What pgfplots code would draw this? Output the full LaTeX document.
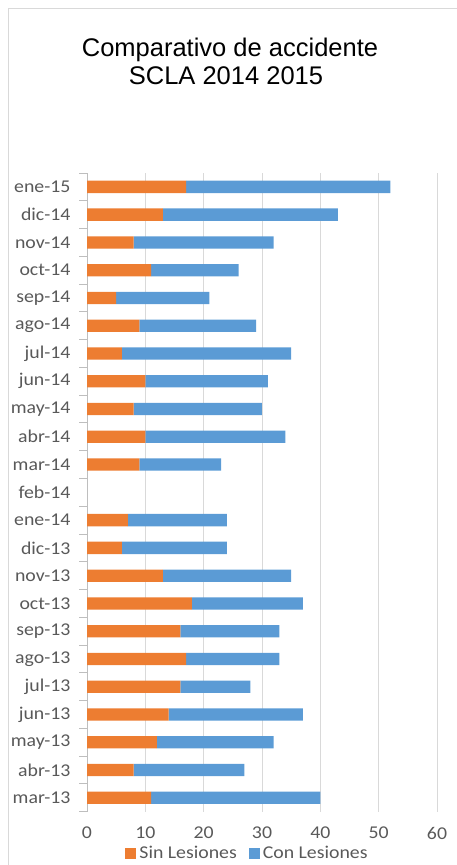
\documentclass[border=0pt]{standalone}
\usepackage{pgfplots}
\pgfplotsset{compat=1.18}
\usepackage{pgfplotstable}
\usepackage{fontspec}
\setmainfont{Liberation Sans}
\newfontfamily\calib[FakeStretch=1.1]{Carlito}
\definecolor{sinc}{RGB}{237,125,49}
\definecolor{conc}{RGB}{91,155,213}
\definecolor{lbl}{RGB}{89,89,89}
\definecolor{gridc}{RGB}{217,217,217}
\definecolor{axc}{RGB}{190,190,190}
\pgfplotstableread{
y sin con
0 11 29
1 8 19
2 12 20
3 14 23
4 16 12
5 17 16
6 16 17
7 18 19
8 13 22
9 6 18
10 7 17
11 0 0
12 9 14
13 10 24
14 8 22
15 10 21
16 6 29
17 9 20
18 5 16
19 11 15
20 8 24
21 13 30
22 17 35
}\datatable
\begin{document}
\begin{tikzpicture}
\path[use as bounding box] (0bp,0bp) rectangle (457bp,865bp);
\draw[gridc, line width=1bp] (8bp,0bp) -- (8bp,856bp) -- (457bp,856bp);
\node[font=\fontsize{25.5bp}{30bp}\selectfont, anchor=base] at (230bp,808.3bp) {Comparativo de accidente};
\node[font=\fontsize{25.5bp}{30bp}\selectfont, anchor=base] at (226bp,780.7bp) {SCLA 2014 2015};
\begin{axis}[
  at={(87bp,53.3bp)}, anchor=south west,
  scale only axis, width=350bp, height=638.7bp,
  clip=false,
  xbar stacked, bar width=12.3bp,
  xmin=0, xmax=60, ymin=-0.5, ymax=22.5,
  xtick={0,10,...,60},
  ytick={0,...,22},
  yticklabels={mar-13,abr-13,may-13,jun-13,jul-13,ago-13,sep-13,oct-13,nov-13,dic-13,ene-14,feb-14,mar-14,abr-14,may-14,jun-14,jul-14,ago-14,sep-14,oct-14,nov-14,dic-14,ene-15},
  major tick length=8bp,
  tick align=outside,
  ytick pos=left, xtick pos=bottom,
  xtick style={draw=none},
  ytick style={draw=none},
  axis line style={draw=none},
  xmajorgrids, major x grid style={gridc, line width=0.9bp},
  tick label style={font=\calib\fontsize{18bp}{20bp}\selectfont, text=lbl},
  /pgf/number format/assume math mode=true,
  yticklabel style={xshift=-5bp},
  xticklabel style={yshift=-4bp},
  legend style={at={(0.4586,-0.0647)}, anchor=center, draw=none, fill=none,
    legend columns=2, font=\calib\fontsize{18bp}{20bp}\selectfont, text=lbl,
    /tikz/every even column/.append style={column sep=10bp},
    /tikz/every odd column/.append style={column sep=1bp},
    inner sep=0pt, outer sep=0pt},
  legend cell align=left,
]
\addplot[fill=sinc, draw=none, legend image code/.code={\fill[sinc] (0bp,-5.5bp) rectangle (11bp,5.5bp);}] table[x=sin, y=y] {\datatable};
\addplot[fill=conc, draw=none, legend image code/.code={\fill[conc] (0bp,-5.5bp) rectangle (11bp,5.5bp);}] table[x=con, y=y] {\datatable};
\legend{Sin Lesiones, Con Lesiones}
\pgfplotsextra{
  \draw[axc, line width=0.9bp] (axis cs:0,-0.5) -- (axis cs:0,22.5);
  \foreach \t in {-0.5,0.5,...,22.5}{
    \draw[axc, line width=0.9bp] (axis cs:0,\t) -- ++(-8bp,0bp);
  }
}
\end{axis}
\end{tikzpicture}
\end{document}
